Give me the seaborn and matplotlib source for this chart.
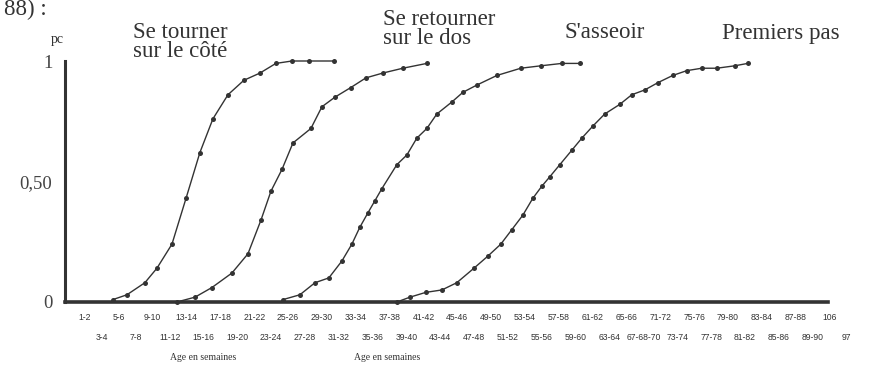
import matplotlib
matplotlib.use("Agg")
import matplotlib.pyplot as plt
import numpy as np
import pandas as pd
import seaborn as sns

# ---------------- data ----------------
# tick labels: upper row (even bins) and lower row (odd bins)
row1_labels = ["1-2", "5-6", "9-10", "13-14", "17-18", "21-22", "25-26", "29-30",
               "33-34", "37-38", "41-42", "45-46", "49-50", "53-54", "57-58",
               "61-62", "65-66", "71-72", "75-76", "79-80", "83-84", "87-88", "106"]
row2_labels = ["3-4", "7-8", "11-12", "15-16", "19-20", "23-24", "27-28", "31-32",
               "35-36", "39-40", "43-44", "47-48", "51-52", "55-56", "59-60",
               "63-64", "67-68-70", "73-74", "77-78", "81-82", "85-86", "89-90", "97"]

series_names = ["Se tourner\nsur le côté", "Se retourner\nsur le dos", "S'asseoir", "Premiers pas"]

# x positions are in tick-bin units (0 = "1-2", 1 = "3-4", ...)
tourner_x = [1.65, 2.48, 3.54, 4.25, 5.14, 5.97, 6.79, 7.56, 8.45, 9.39, 10.34,
             11.28, 12.23, 13.23, 14.71]
tourner_y = [0.01, 0.03, 0.08, 0.14, 0.24, 0.43, 0.62, 0.76, 0.86, 0.92, 0.95,
             0.99, 1.00, 1.00, 1.00]

retourner_x = [5.43, 6.50, 7.50, 8.68, 9.63, 10.40, 10.99, 11.64, 12.29, 13.35,
               14.00, 14.77, 15.71, 16.60, 17.60, 18.78, 20.20]
retourner_y = [0.00, 0.02, 0.06, 0.12, 0.20, 0.34, 0.46, 0.55, 0.66, 0.72,
               0.81, 0.85, 0.89, 0.93, 0.95, 0.97, 0.99]

asseoir_x = [11.70, 12.70, 13.59, 14.41, 15.18, 15.77, 16.24, 16.72, 17.13, 17.54,
             18.43, 19.02, 19.61, 20.20, 20.79, 21.68, 22.33, 23.15, 24.34, 25.75,
             26.93, 28.18, 29.24]
asseoir_y = [0.01, 0.03, 0.08, 0.10, 0.17, 0.24, 0.31, 0.37, 0.42, 0.47,
             0.57, 0.61, 0.68, 0.72, 0.78, 0.83, 0.87, 0.90, 0.94, 0.97,
             0.98, 0.99, 0.99]

pas_x = [18.43, 19.20, 20.14, 21.09, 21.97, 22.98, 23.80, 24.57, 25.22, 25.87,
         26.46, 26.99, 27.47, 28.06, 28.77, 29.36, 30.01, 30.71, 31.60, 32.31,
         33.08, 33.85, 34.73, 35.56, 36.44, 37.33, 38.39, 39.16]
pas_y = [0.00, 0.02, 0.04, 0.05, 0.08, 0.14, 0.19, 0.24, 0.30, 0.36,
         0.43, 0.48, 0.52, 0.57, 0.63, 0.68, 0.73, 0.78, 0.82, 0.86,
         0.88, 0.91, 0.94, 0.96, 0.97, 0.97, 0.98, 0.99]

# ---------------- build long-form table ----------------
frames = []
for name, xs, ys in zip(series_names,
                        [tourner_x, retourner_x, asseoir_x, pas_x],
                        [tourner_y, retourner_y, asseoir_y, pas_y]):
    frames.append(pd.DataFrame({"x": xs, "y": ys, "curve": name}))
df = pd.concat(frames, ignore_index=True)

# ---------------- style ----------------
sns.set_style("white")
plt.rcParams["font.family"] = ["Liberation Serif", "DejaVu Serif"]
ink = "#333333"

fig = plt.figure(figsize=(8.77, 3.65), dpi=100)
ax = fig.add_axes([65 / 877, (365 - 302) / 365, 790 / 877, 265.1 / 365])

sns.lineplot(data=df, x="x", y="y", hue="curve", palette=[ink] * 4,
             estimator=None, sort=False, legend=False,
             marker="o", markersize=3.6, markeredgewidth=0,
             linewidth=1.0, ax=ax)
for ln in ax.lines:
    ln.set_clip_on(False)

xmin, xend = -1.18, 43.9
ax.set_xlim(xmin, 45.5)
ax.set_ylim(0, 1.1)

# spines
for side in ["top", "right"]:
    ax.spines[side].set_visible(False)
ax.spines["left"].set_linewidth(2.2)
ax.spines["bottom"].set_linewidth(2.6)
ax.spines["left"].set_color(ink)
ax.spines["bottom"].set_color(ink)
ax.spines["left"].set_bounds(0, 1)
ax.spines["bottom"].set_bounds(xmin, xend)

# x ticks: two staggered rows
n = len(row1_labels) + len(row2_labels)
pos = np.arange(n)
ax.set_xticks(pos[0::2])
ax.set_xticklabels(row1_labels)
ax.set_xticks(pos[1::2], minor=True)
ax.set_xticklabels(row2_labels, minor=True)
ax.tick_params(axis="x", which="major", length=0, pad=8, labelsize=6.2,
               labelcolor=ink)
ax.tick_params(axis="x", which="minor", length=0, pad=22.5, labelsize=6.2,
               labelcolor=ink)
for lab in ax.get_xticklabels(which="both"):
    lab.set_family(["Liberation Sans", "DejaVu Sans"])

# y ticks
ax.set_yticks([0, 0.5, 1])
ax.set_yticklabels(["0", "0,50", "1"])
ax.set_yticks(np.arange(0.1, 1.0, 0.1), minor=True)
ax.tick_params(axis="y", which="major", direction="inout", length=4, width=1.2,
               color=ink, pad=7, labelsize=13.5, labelcolor="#444444")
ax.tick_params(axis="y", which="minor", direction="inout", length=3, width=1.0,
               color=ink)
ax.set_xlabel("")
ax.set_ylabel("")

# ---------------- annotations ----------------
tk = dict(fontsize=16.5, color=ink, va="center", ha="left", linespacing=0.9)
fig.text(133 / 877, 1 - 42 / 365, "Se tourner\nsur le côté", **tk)
fig.text(383 / 877, 1 - 29 / 365, "Se retourner\nsur le dos", **tk)
fig.text(565 / 877, 1 - 33 / 365, "S'asseoir", **tk)
fig.text(722 / 877, 1 - 33 / 365, "Premiers pas", **tk)

fig.text(4 / 877, 1 - 9 / 365, "88) :", fontsize=16.5, color=ink, va="center", ha="left")
fig.text(57 / 877, 1 - 40 / 365, "pc", fontsize=10, color=ink, va="center", ha="center")

fig.text(203 / 877, 1 - 357 / 365, "Age en semaines", fontsize=7, color=ink,
         va="center", ha="center")
fig.text(387 / 877, 1 - 357 / 365, "Age en semaines", fontsize=7, color=ink,
         va="center", ha="center")

fig.savefig("out.png", dpi=100, facecolor="white")
